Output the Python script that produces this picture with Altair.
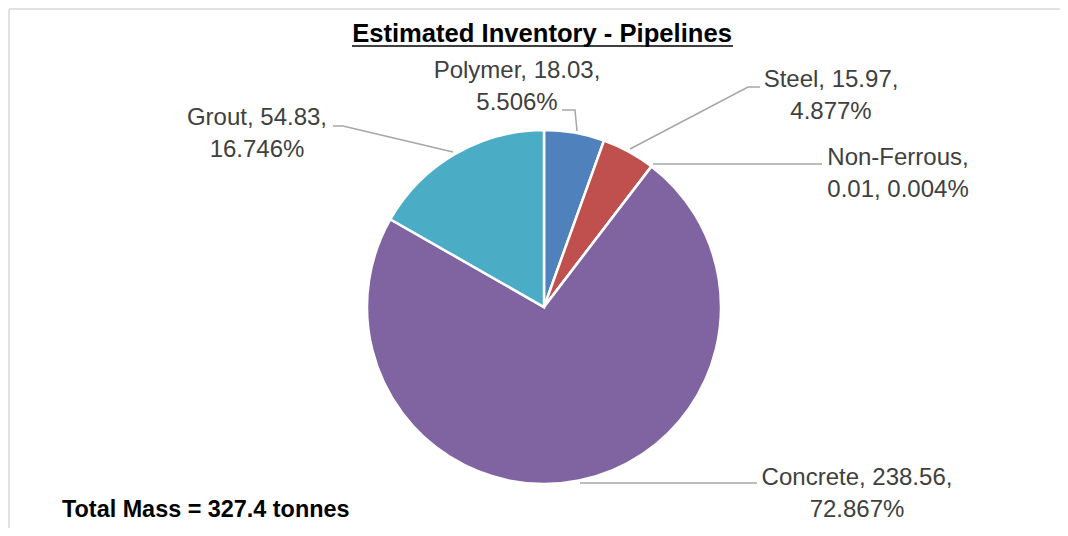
import altair as alt
import pandas as pd

# ---- data ----
categories = ["Polymer", "Steel", "Non-Ferrous", "Concrete", "Grout"]
masses = [18.03, 15.97, 0.01, 238.56, 54.83]
percent_labels = ["5.506%", "4.877%", "0.004%", "72.867%", "16.746%"]
colors = ["#4F81BD", "#C0504D", "#9BBB59", "#8064A2", "#4BACC6"]
chart_title = "Estimated Inventory - Pipelines"
total_text = "Total Mass = 327.4 tonnes"

# ---- layout (pixels in chart coordinates) ----
W, H = 1052, 520
CX, CY, R = 536, 299, 177
label_xy = [(509, 70), (823, 79), (890, 157), (849, 477), (249, 117)]
parts_on_first_line = [2, 2, 1, 2, 2]
leader_pts = [
    [(554, 102), (567, 102), (569, 123)],
    [(752, 79), (740, 79), (622, 141)],
    [(814, 156), (645, 156)],
    [(749, 475), (572, 475)],
    [(325, 118), (335, 118), (445, 144)],
]

pie_df = pd.DataFrame({
    "category": categories,
    "mass": masses,
    "idx": list(range(len(categories))),
})

labels = []
for i, cat in enumerate(categories):
    parts = [cat, f"{masses[i]:.2f}", percent_labels[i]]
    k = parts_on_first_line[i]
    txt = ", ".join(parts[:k]) + ",\n" + ", ".join(parts[k:])
    labels.append({"category": cat, "label": txt, "x": label_xy[i][0], "y": label_xy[i][1]})
label_df = pd.DataFrame(labels)

leader_rows = []
for i, cat in enumerate(categories):
    for j, (x, y) in enumerate(leader_pts[i]):
        leader_rows.append({"category": cat, "pt": j, "x": x, "y": y})
leader_df = pd.DataFrame(leader_rows)

X = lambda f: alt.X(f, scale=None, axis=None)
Y = lambda f: alt.Y(f, scale=None, axis=None)

frame_df = pd.DataFrame({"x": [1, 1], "y": [1, 1], "x2": [W, 1], "y2": [1, H]})
frame = alt.Chart(frame_df).mark_rule(color="#D9D9D9", strokeWidth=1.5).encode(
    x=X("x:Q"), y=Y("y:Q"), x2="x2:Q", y2="y2:Q"
)

pie = alt.Chart(pie_df).mark_arc(outerRadius=R, stroke="white", strokeWidth=2.5).encode(
    theta=alt.Theta("mass:Q"),
    color=alt.Color("category:N", scale=alt.Scale(domain=categories, range=colors), legend=None),
    order=alt.Order("idx:Q"),
    x=alt.value(CX),
    y=alt.value(CY),
)

leaders = alt.Chart(leader_df).mark_line(color="#A6A6A6", strokeWidth=1.5).encode(
    x=X("x:Q"), y=Y("y:Q"), detail="category:N", order="pt:Q"
)

label_text = alt.Chart(label_df).mark_text(
    font="Liberation Sans", fontSize=24, color="#404040", align="center",
    baseline="alphabetic", lineBreak="\n", lineHeight=32,
).encode(x=X("x:Q"), y=Y("y:Q"), text="label:N")

title_df = pd.DataFrame({"t": [chart_title], "x": [534], "y": [34]})
title_text = alt.Chart(title_df).mark_text(
    font="Liberation Sans", fontSize=25.6, fontWeight="bold", color="black",
    align="center", baseline="alphabetic",
).encode(x=X("x:Q"), y=Y("y:Q"), text="t:N")

ul_df = pd.DataFrame({"x": [344], "x2": [725], "y": [38]})
underline = alt.Chart(ul_df).mark_rule(color="black", strokeWidth=1.5).encode(
    x=X("x:Q"), x2="x2:Q", y=Y("y:Q")
)

total_df = pd.DataFrame({"t": [total_text], "x": [54], "y": [509]})
total = alt.Chart(total_df).mark_text(
    font="Liberation Sans", fontSize=23.4, fontWeight="bold", color="black",
    align="left", baseline="alphabetic",
).encode(x=X("x:Q"), y=Y("y:Q"), text="t:N")

chart = alt.layer(frame, pie, leaders, label_text, title_text, underline, total).properties(
    width=W, height=H, padding=0,
    autosize=alt.AutoSizeParams(type="fit", contains="padding"),
).configure_view(stroke=None)

chart.save("out.html", embed_options={"renderer": "svg", "actions": False})
